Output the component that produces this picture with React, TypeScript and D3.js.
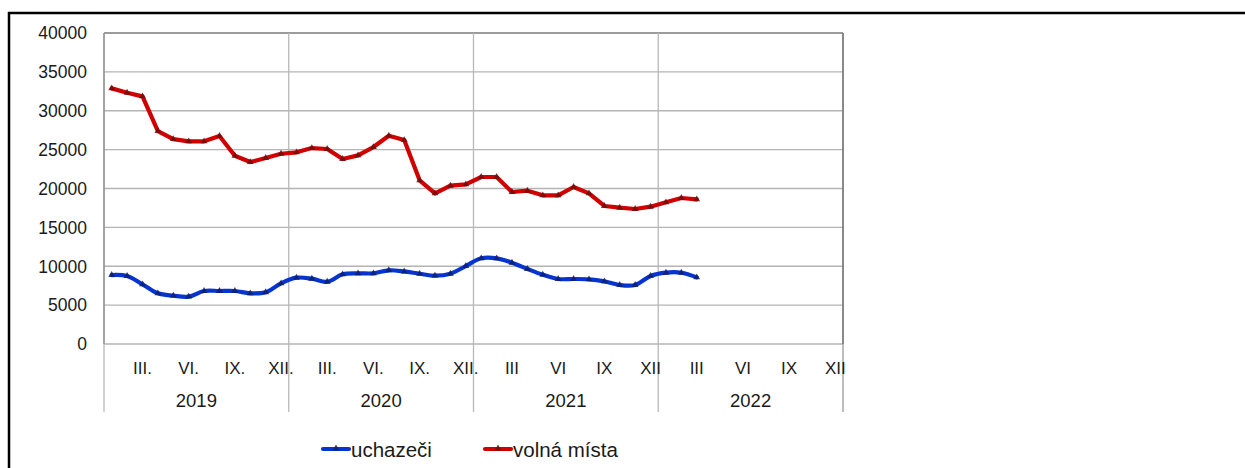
import React from 'react';
import * as d3 from 'd3';

// years on the x axis, 12 months each
const years = ['2019', '2020', '2021', '2022'];
const monthTicks = [3, 6, 9, 12];
const monthLabelsByYear = [
  ['III.', 'VI.', 'IX.', 'XII.'],
  ['III.', 'VI.', 'IX.', 'XII.'],
  ['III', 'VI', 'IX', 'XII'],
  ['III', 'VI', 'IX', 'XII'],
];
const yTicks = [0, 5000, 10000, 15000, 20000, 25000, 30000, 35000, 40000];

// monthly values, Jan 2019 .. Mar 2022
const uchazeci = [
  8870, 8740, 7670, 6520, 6220, 6090, 6820, 6820, 6820, 6520, 6650, 7800,
  8530, 8400, 8010, 8960, 9090, 9090, 9480, 9330, 9040, 8790, 9040, 10030,
  11020, 11020, 10460, 9650, 8910, 8360, 8360, 8320, 8060, 7590, 7590, 8740,
  9170, 9170, 8570,
];
const volnaMista = [
  32880, 32320, 31850, 27390, 26360, 26070, 26070, 26750, 24220, 23400, 23920, 24470,
  24650, 25200, 25080, 23790, 24260, 25330, 26790, 26230, 21050, 19380, 20360, 20540,
  21480, 21480, 19550, 19720, 19120, 19120, 20190, 19380, 17750, 17530, 17360, 17660,
  18220, 18780, 18610,
];

const seriesNames = ['uchazeči', 'volná místa'];
const seriesColors = ['#0634d0', '#d00000'];
const markerColors = ['#10206a', '#6a1010'];

const W = 1245;
const H = 468;
const plot = { left: 104, right: 843, top: 33, bottom: 344 };
const font = '"Liberation Sans", Arial, sans-serif';

const App: React.FC = () => {
  const months = d3.range(years.length * 12);
  const x = d3.scaleBand<number>().domain(months).range([plot.left, plot.right]).padding(0);
  const y = d3.scaleLinear().domain([0, 40000]).range([plot.bottom, plot.top]);
  const cx = (i: number) => (x(i) as number) + x.bandwidth() / 2;

  const blueLine = d3.line<number>()
    .x((_, i) => cx(i))
    .y(d => y(d))
    .curve(d3.curveCatmullRom.alpha(0.5));
  const redLine = d3.line<number>()
    .x((_, i) => cx(i))
    .y(d => y(d));

  const tri = d3.symbol().type(d3.symbolTriangle).size(20)();

  const yearEdges = d3.range(years.length + 1).map(k =>
    k === years.length ? plot.right : (x(k * 12) as number));

  const series = [
    { data: uchazeci, path: blueLine(uchazeci) },
    { data: volnaMista, path: redLine(volnaMista) },
  ];

  return (
    <svg width={W} height={H} style={{ position: 'absolute', left: 0, top: 0, background: '#fff' }}>
      {/* outer frame */}
      <rect x={9} y={13} width={1400} height={600} fill="none" stroke="#000" strokeWidth={2.5} />

      {/* horizontal grid */}
      {yTicks.map(t => (
        <line key={t} x1={plot.left} x2={plot.right} y1={y(t)} y2={y(t)}
          stroke={t === 40000 ? '#7a7a7a' : '#b4b4b4'} strokeWidth={1.3} />
      ))}
      {/* year dividers extend into the category axis */}
      {yearEdges.map((ex, k) => (
        <line key={k} x1={ex} x2={ex} y1={plot.top} y2={412}
          stroke={k === yearEdges.length - 1 ? '#9a9a9a' : '#b8b8b8'} strokeWidth={1.3} />
      ))}
      <line x1={plot.right} x2={plot.right} y1={plot.top} y2={plot.bottom} stroke="#6e6e6e" strokeWidth={1.3} />
      <line x1={plot.left} x2={plot.left} y1={plot.top} y2={plot.bottom} stroke="#8a8a8a" strokeWidth={1.3} />

      {/* y tick labels */}
      {yTicks.map(t => (
        <text key={t} x={87} y={y(t)} dy="0.36em" textAnchor="end"
          fontFamily={font} fontSize={17.5} fill="#1a1a1a">{t}</text>
      ))}

      {/* month labels */}
      {years.map((yr, k) =>
        monthTicks.map((m, j) => (
          <text key={yr + m} x={cx(k * 12 + m - 1)} y={374} textAnchor="middle"
            fontFamily={font} fontSize={17} fill="#1a1a1a">{monthLabelsByYear[k][j]}</text>
        ))
      )}
      {/* year labels */}
      {years.map((yr, k) => (
        <text key={yr} x={(yearEdges[k] + yearEdges[k + 1]) / 2} y={406.5} textAnchor="middle"
          fontFamily={font} fontSize={18.5} fill="#1a1a1a">{yr}</text>
      ))}

      {/* series */}
      {series.map((s, si) => (
        <g key={si}>
          <path d={s.path ?? ''} fill="none" stroke={seriesColors[si]} strokeWidth={4.2}
            strokeLinejoin="round" strokeLinecap="round" />
          {s.data.map((v, i) => (
            <path key={i} d={tri ?? ''} transform={`translate(${cx(i)},${y(v)})`} fill={markerColors[si]} opacity={0.85} />
          ))}
        </g>
      ))}

      {/* legend */}
      {seriesNames.map((name, i) => {
        const lx = i === 0 ? 323 : 485;
        return (
          <g key={name}>
            <line x1={lx} x2={lx + 26} y1={449} y2={449} stroke={seriesColors[i]} strokeWidth={4.2} strokeLinecap="round" />
            <path d={tri ?? ''} transform={`translate(${lx + 13},${448.5})`} fill={markerColors[i]} opacity={0.85} />
            <text x={lx + 28} y={456.5} fontFamily={font} fontSize={20.5} fill="#1a1a1a">{name}</text>
          </g>
        );
      })}
    </svg>
  );
};

export default App;
